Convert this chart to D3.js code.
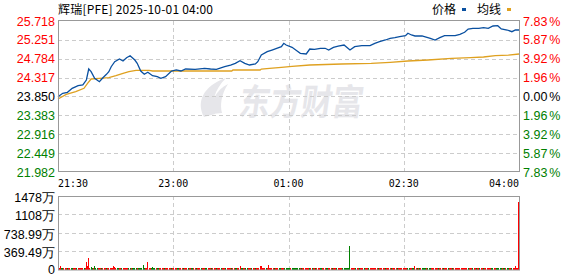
<!DOCTYPE html>
<html>
<head>
<meta charset="utf-8">
<script src="https://cdn.jsdelivr.net/npm/d3@7"></script>
<style>
	body { margin: 0; background: #fff; }
	svg { display: block; }
</style>
</head>
<body>
<div id="chart"></div>
<script>
var title = "辉瑞[PFE] 2025-10-01 04:00";
var preClose = 23.850;
var priceTicks = [25.718, 25.251, 24.784, 24.317, 23.850, 23.383, 22.916, 22.449, 21.982];
var rateTicks = ["7.83", "5.87", "3.92", "1.96", "0.00", "1.96", "3.92", "5.87", "7.83"];
var timeLabels = ["21:30", "23:00", "01:00", "02:30", "04:00"];
var volTicks = [1478, 1108, 738.99, 369.49, 0];
var volTickLabels = ["1478万", "1108万", "738.99万", "369.49万", "0"];

// minutes since 21:30 and price
var priceMin = [0, 4, 8, 12, 17, 21, 24, 26, 28, 31, 35, 38, 41, 43, 45, 48, 52, 55, 58, 61,
	65, 67, 70, 73, 76, 80, 84, 87, 91, 96, 100, 104, 108, 116, 124, 129, 134, 141, 146, 150,
	154, 158, 162, 167, 169, 172, 177, 181, 185, 189, 191, 193, 198, 202, 205, 210, 213, 217, 222, 226,
	229, 233, 237, 242, 247, 251, 257, 264, 268, 272, 277, 281, 285, 289, 294, 296, 299, 302, 308, 310,
	315, 319, 323, 327, 336, 340, 344, 347, 351, 356, 360, 364, 368, 372, 375, 380, 384, 387, 390];
var priceVal = [23.845, 23.929, 23.954, 24.053, 24.117, 24.135, 24.258, 24.530, 24.464, 24.300, 24.216, 24.315, 24.399, 24.464, 24.587, 24.711, 24.778, 24.728, 24.810, 24.859,
	24.753, 24.671, 24.481, 24.399, 24.449, 24.365, 24.340, 24.300, 24.340, 24.481, 24.506, 24.481, 24.530, 24.523, 24.548, 24.530, 24.523, 24.587, 24.629, 24.671,
	24.736, 24.671, 24.629, 24.654, 24.711, 24.877, 24.958, 25.000, 25.043, 25.082, 25.166, 25.124, 25.067, 24.983, 24.919, 24.902, 25.025, 25.018, 25.043, 25.043,
	25.000, 25.067, 25.099, 25.124, 25.000, 25.082, 25.107, 25.107, 25.166, 25.206, 25.248, 25.290, 25.305, 25.330, 25.354, 25.414, 25.372, 25.347, 25.347, 25.330,
	25.290, 25.248, 25.305, 25.354, 25.354, 25.389, 25.438, 25.520, 25.537, 25.537, 25.552, 25.537, 25.594, 25.602, 25.520, 25.495, 25.453, 25.495, 25.495];

var avgMin = [0, 7, 15, 22, 25, 28, 35, 43, 49, 55, 60, 66, 77, 80, 124, 147, 148, 171, 172, 179,
	189, 198, 213, 240, 265, 281, 296, 313, 333, 349, 360, 370, 381, 390];
var avgVal = [23.788, 23.904, 23.969, 24.053, 24.177, 24.283, 24.300, 24.315, 24.365, 24.424, 24.464, 24.498, 24.498, 24.481, 24.481, 24.481, 24.506, 24.506, 24.530, 24.548,
	24.572, 24.597, 24.629, 24.654, 24.671, 24.696, 24.728, 24.753, 24.795, 24.810, 24.827, 24.859, 24.876, 24.902];

// volume per minute in 万, negative = falling minute (green)
var volume = [
	30, 25, 60, -20, -25, 30, 25, 20, -20, 25, 30, -25, -20, 25, 30, 20, -25, 25, 30, 20,
	25, 30, -25, 30, 150, 70, 225, 30, -45, -30, 25, -60, -30, -25, 25, 30, 20, -20, 25, 30,
	25, -20, 30, 25, 30, 30, 25, 60, 45, 30, -25, -20, 25, 30, -20, 25, 30, 25, 30, 25,
	-25, -30, 25, -20, -25, -30, -25, 20, -25, -30, -25, -20, -80, -30, 25, 30, 150, 25, 30, -20,
	-40, -25, -20, 25, -20, -25, 20, 25, 30, 25, -20, 25, 30, 30, 25, 20, -20, 25, 20, 25,
	20, -20, -25, 20, 25, 20, -20, 25, 20, 20, -20, 20, 25, -20, -20, 25, 20, -20, 20, 25,
	20, -25, 20, 20, 25, -20, -20, 20, 25, 20, -20, 20, 25, 20, -25, 20, 25, 20, -20, 25,
	25, 20, -20, 25, 20, 20, 25, -20, 20, 25, -20, -25, 20, 25, 60, -25, -20, 25, 20, -20,
	-20, 20, 25, 20, -20, 25, 20, -20, 25, 20, 25, 60, 60, 25, 30, 20, -20, 25, 80, 25,
	25, 20, 25, -20, 25, 20, 25, -25, -20, 25, 30, 25, -20, -25, -25, -30, -20, 25, -20, -25,
	-20, -25, -20, -20, -25, 20, -20, 20, 25, 20, 25, 30, 25, -20, 20, -20, 25, 20, -20, 20,
	25, 20, -20, -20, 20, 25, 20, -25, -20, 25, 20, 20, -20, 25, 20, 20, -20, 25, 20, 20,
	25, -20, -25, -25, -30, -25, -20, -466, 25, 30, 25, 20, -20, 25, 20, -20, 20, 25, 20, -20,
	20, 25, 20, -20, 20, 25, 30, 25, 20, 25, 30, -20, 25, 20, 25, 30, 20, -20, 25, 20,
	25, 20, -20, 25, 20, 25, 20, -20, 25, 20, 25, 30, 25, 20, 30, 25, -25, -20, 25, 20,
	-20, -20, 60, 20, -20, 25, -20, 20, -20, -25, -20, -25, 20, -20, -25, -20, 20, 25, 20, 25,
	20, 25, -20, 20, 25, 20, -20, 20, 25, 20, -20, 20, 25, 20, -20, 25, 20, 25, 30, 25,
	25, 30, 20, 25, 30, 25, 20, -20, 25, 20, 25, -20, 20, 25, -20, 20, 25, -20, 25, 20,
	-20, 25, 20, 25, 30, 25, 20, -25, -20, 25, 30, -20, -25, -25, -20, -25, 20, -20, -25, 25,
	-20, -25, 25, 20, -20, 25, 20, 60, 25, 30, 1360
];

var red = "#ff0000", green = "#008000", dark = "#000000";
var gridColor = "#cccccc", frameColor = "#999999";
var labelFont = "'Liberation Sans', Arial, sans-serif";
var cjkFont = "'Noto Sans CJK SC', sans-serif";

var W = 578, H = 276;
var left = 58, right = 519;
var pTop = 21, pBottom = 172;
var vTop = 196, vBottom = 269;

var svg = d3.select("#chart").append("svg")
	.attr("width", W)
	.attr("height", H);

var x = d3.scaleLinear().domain([0, 390]).range([left, right]);
var xLabel = d3.scalePoint().domain(timeLabels).range([left, right]);
var y = d3.scaleLinear().domain([priceTicks[priceTicks.length - 1], priceTicks[0]]).range([pBottom, pTop]);
var yVol = d3.scaleLinear().domain([0, volTicks[0]]).range([vBottom, vTop]);

function tickColor(v) {
	if (Math.abs(v - preClose) < 1e-6) return dark;
	return v > preClose ? red : green;
}

// watermark
var wm = svg.append("g").attr("fill", "#e6e6ea");
wm.append("path")
	.attr("d", "M204,117 C196,102 203,86 226,78 C214,90 211,103 215,114 Z M212,114 C210,102 216,90 228,84 C221,95 220,105 222,113 Z");
wm.append("text")
	.attr("x", 254)
	.attr("y", 115)
	.attr("font-family", cjkFont)
	.attr("font-weight", "bold")
	.attr("font-size", 36)
	.attr("textLength", 124)
	.attr("lengthAdjust", "spacingAndGlyphs")
	.attr("transform", "skewX(-8)")
	.text("东方财富");

// grids
var grid = svg.append("g")
	.attr("stroke", gridColor)
	.attr("stroke-dasharray", "4,3")
	.attr("shape-rendering", "crispEdges");

grid.selectAll("line.h")
	.data(priceTicks.slice(1, -1))
	.enter()
	.append("line")
	.attr("x1", left).attr("x2", right)
	.attr("y1", function(d) { return Math.round(y(d)) + 0.5; })
	.attr("y2", function(d) { return Math.round(y(d)) + 0.5; });

grid.selectAll("line.vh")
	.data(volTicks.slice(1, -1))
	.enter()
	.append("line")
	.attr("x1", left).attr("x2", right)
	.attr("y1", function(d) { return Math.round(yVol(d)) + 0.5; })
	.attr("y2", function(d) { return Math.round(yVol(d)) + 0.5; });

grid.selectAll("line.v")
	.data(timeLabels.slice(1, -1))
	.enter()
	.append("line")
	.attr("x1", function(d) { return Math.round(xLabel(d)) + 0.5; })
	.attr("x2", function(d) { return Math.round(xLabel(d)) + 0.5; })
	.attr("y1", pTop).attr("y2", pBottom);

grid.selectAll("line.vv")
	.data(timeLabels.slice(1, -1))
	.enter()
	.append("line")
	.attr("x1", function(d) { return Math.round(xLabel(d)) + 0.5; })
	.attr("x2", function(d) { return Math.round(xLabel(d)) + 0.5; })
	.attr("y1", vTop).attr("y2", vBottom + 1);

// volume bars
svg.append("g")
	.attr("shape-rendering", "crispEdges")
	.selectAll("rect")
	.data(volume)
	.enter()
	.append("rect")
	.attr("x", function(d, i) { return Math.min(Math.floor(x(i)), right - 1); })
	.attr("width", 1)
	.attr("y", function(d) { return yVol(Math.abs(d)); })
	.attr("height", function(d) { return vBottom + 0.5 - yVol(Math.abs(d)); })
	.attr("fill", function(d) { return d < 0 ? green : red; });

// average + price lines
var avgPts = avgMin.map(function(m, i) { return [m, avgVal[i]]; });
var pricePts = priceMin.map(function(m, i) { return [m, priceVal[i]]; });

var line = d3.line()
	.x(function(d) { return x(d[0]); })
	.y(function(d) { return y(d[1]); });

svg.append("path")
	.datum(avgPts)
	.attr("d", line)
	.attr("fill", "none")
	.attr("stroke", "#dfa120")
	.attr("stroke-width", 1.3);

svg.append("path")
	.datum(pricePts)
	.attr("d", line)
	.attr("fill", "none")
	.attr("stroke", "#0a50a0")
	.attr("stroke-width", 1.3);

// frames
svg.append("rect")
	.attr("x", left + 0.5).attr("y", pTop - 0.5)
	.attr("width", right - left).attr("height", pBottom - pTop)
	.attr("fill", "none").attr("stroke", frameColor);
svg.append("rect")
	.attr("x", left + 0.5).attr("y", vTop + 0.5)
	.attr("width", right - left).attr("height", vBottom - vTop + 0.5)
	.attr("fill", "none").attr("stroke", frameColor);

// price labels
svg.append("g")
	.selectAll("text")
	.data(priceTicks)
	.enter()
	.append("text")
	.attr("x", 55)
	.attr("y", function(d) { return y(d) + 4.5; })
	.attr("text-anchor", "end")
	.attr("font-family", labelFont)
	.attr("font-size", 12.5)
	.attr("fill", tickColor)
	.text(function(d) { return d.toFixed(3); });

// rate labels
var rate = svg.append("g")
	.selectAll("text")
	.data(rateTicks)
	.enter()
	.append("text")
	.attr("x", 523)
	.attr("y", function(d, i) { return y(priceTicks[i]) + 4.5; })
	.attr("font-family", labelFont)
	.attr("font-size", 12.5)
	.attr("fill", function(d, i) { return tickColor(priceTicks[i]); });
rate.append("tspan").text(function(d) { return d; });
rate.append("tspan").attr("dx", 2).text("%");

// time labels
svg.append("g")
	.selectAll("text")
	.data(timeLabels)
	.enter()
	.append("text")
	.attr("x", function(d) { return xLabel(d); })
	.attr("y", 187)
	.attr("text-anchor", function(d, i) { return i == 0 ? "start" : (i == timeLabels.length - 1 ? "end" : "middle"); })
	.attr("font-family", "'DejaVu Sans Mono', monospace")
	.attr("font-size", 11)
	.attr("textLength", 30)
	.attr("lengthAdjust", "spacingAndGlyphs")
	.attr("fill", dark)
	.text(function(d) { return d; });

// volume labels
svg.append("g")
	.selectAll("text")
	.data(volTicks)
	.enter()
	.append("text")
	.attr("x", 55)
	.attr("y", function(d) { return Math.min(yVol(d) + 6, 274); })
	.attr("text-anchor", "end")
	.attr("font-family", labelFont)
	.attr("font-size", 12.5)
	.attr("fill", dark)
	.text(function(d, i) { return volTickLabels[i]; });

// title + legend
svg.append("text")
	.attr("x", 58)
	.attr("y", 14)
	.attr("font-family", cjkFont)
	.attr("font-size", 12)
	.attr("textLength", 155)
	.attr("fill", dark)
	.text(title);

var legend = [
	{ name: "价格", color: "#0a50a0", x: 432 },
	{ name: "均线", color: "#dfa120", x: 477 }
];
var lg = svg.append("g").selectAll("g").data(legend).enter().append("g");
lg.append("text")
	.attr("x", function(d) { return d.x; })
	.attr("y", 14)
	.attr("font-family", cjkFont)
	.attr("font-size", 12)
	.attr("fill", dark)
	.text(function(d) { return d.name; });
lg.append("rect")
	.attr("x", function(d) { return d.x + 30; })
	.attr("y", 8)
	.attr("width", 4)
	.attr("height", 3)
	.attr("fill", function(d) { return d.color; });
</script>
</body>
</html>
